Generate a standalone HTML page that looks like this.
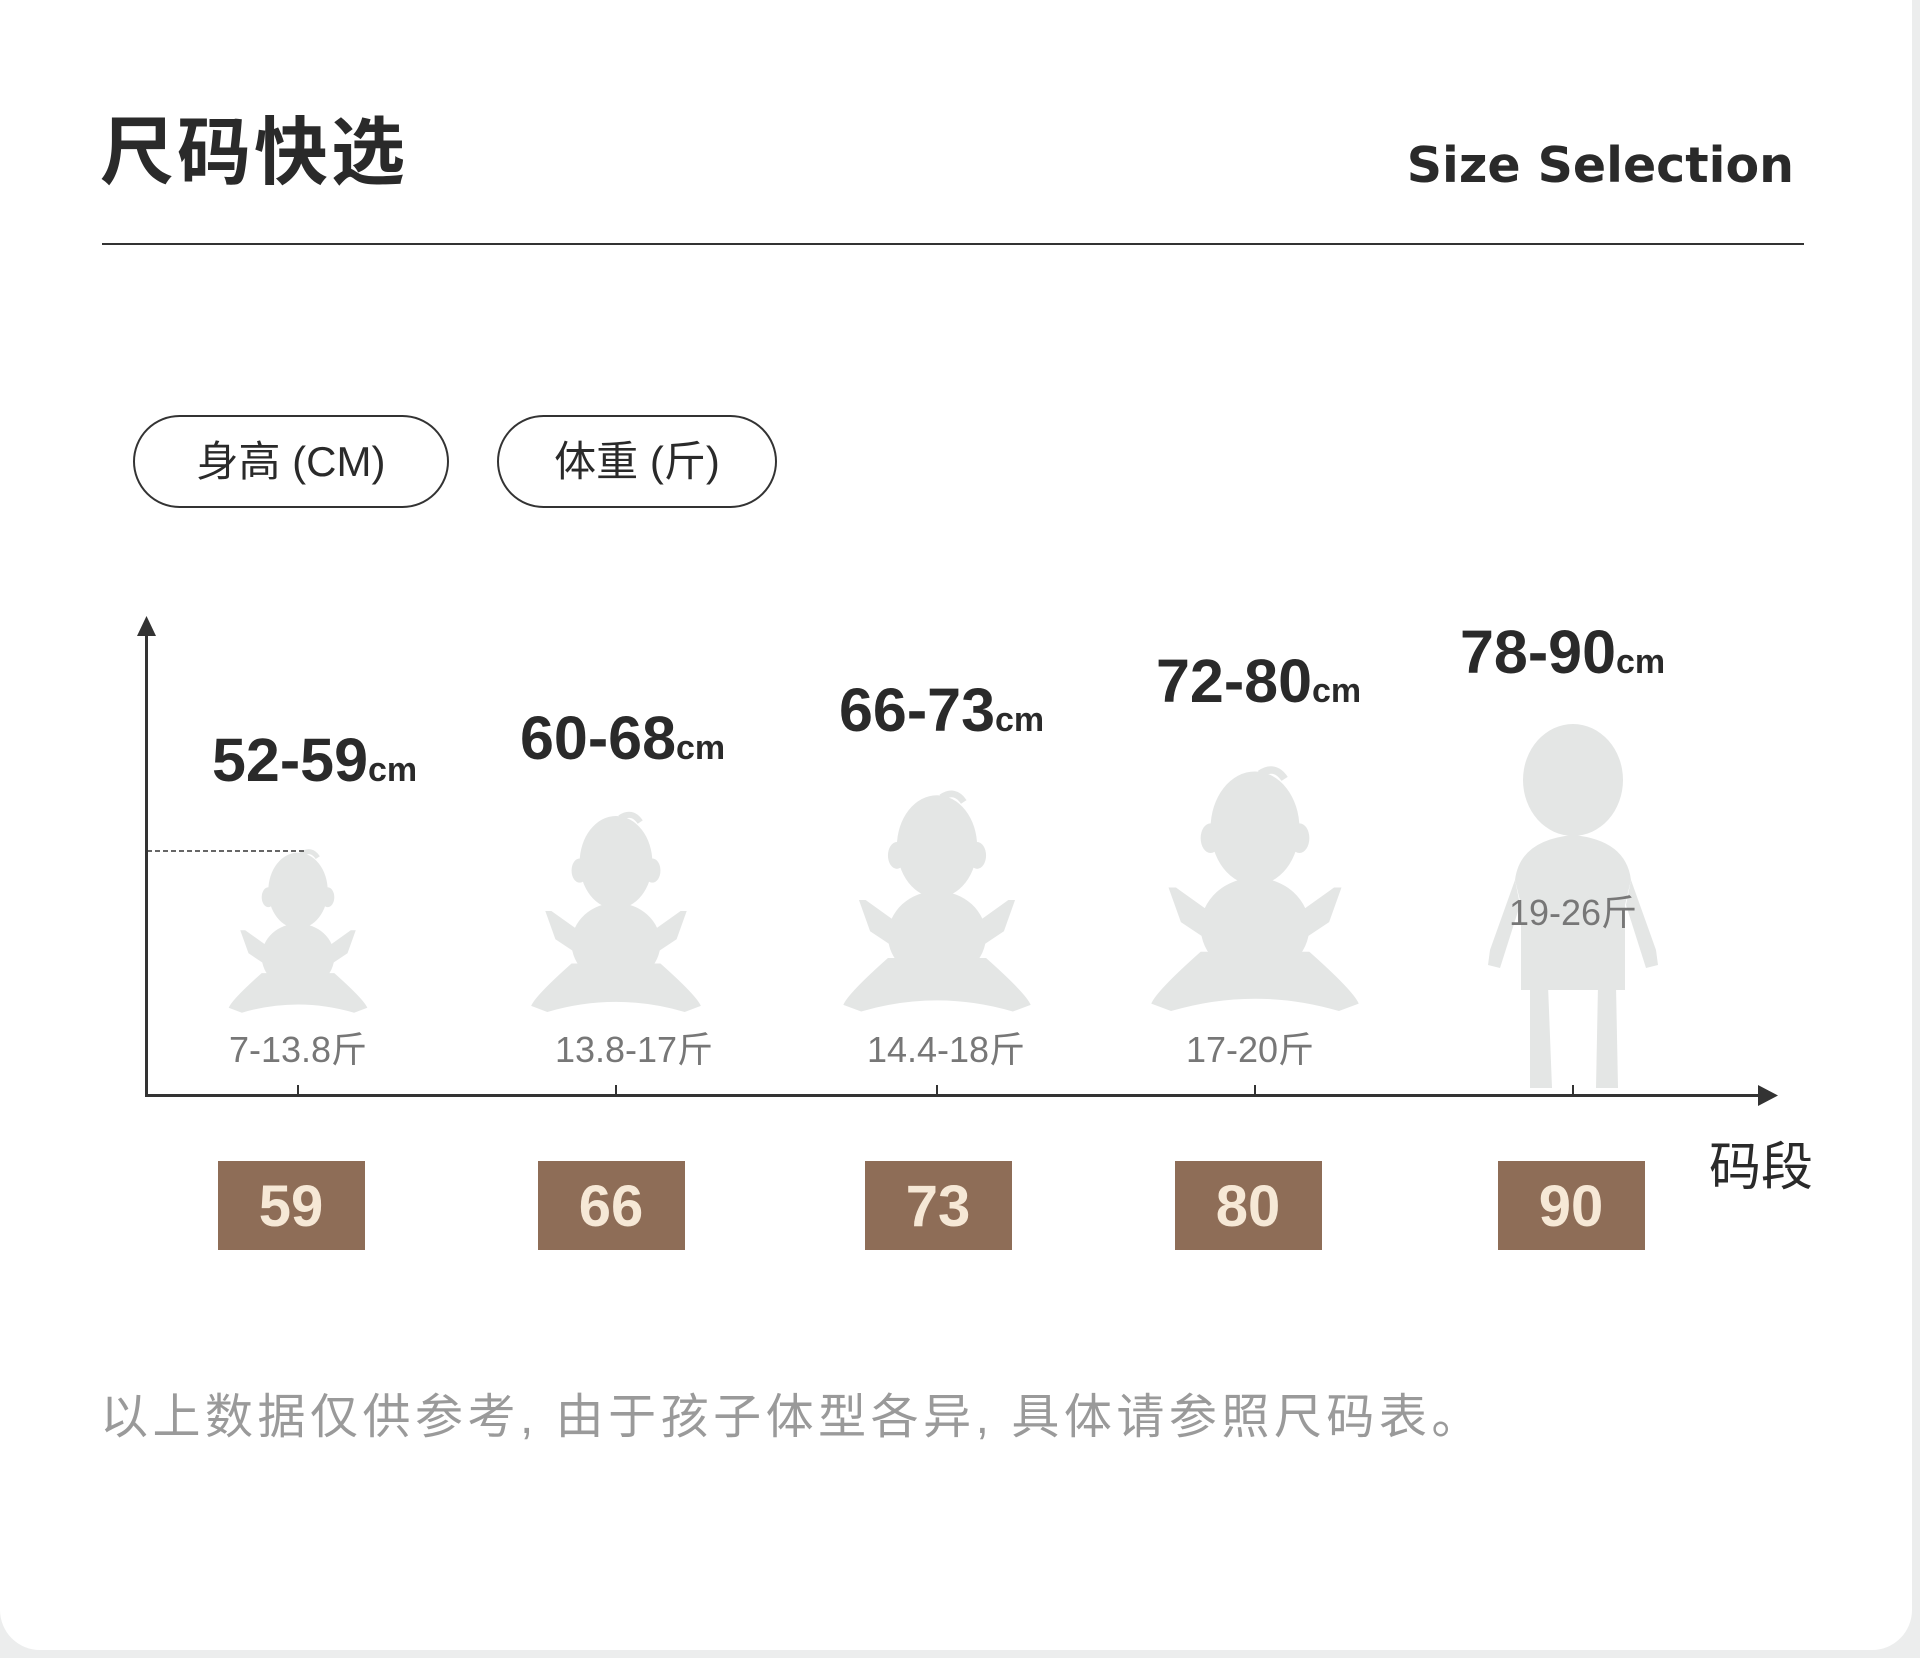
<!DOCTYPE html>
<html><head><meta charset="utf-8"><style>
html,body{margin:0;padding:0;background:#eceded;}
svg{display:block}
</style></head><body>
<svg width="1920" height="1658" viewBox="0 0 1920 1658" xmlns="http://www.w3.org/2000/svg" font-family="'Liberation Sans','Noto Sans CJK SC',sans-serif">
<rect x="0" y="-40" width="1912" height="1690" rx="40" fill="#fff"/>
<text x="100" y="178" font-size="74" font-weight="bold" fill="#2a2a2a" letter-spacing="3">尺码快选</text>
<text x="1794" y="182" font-size="49" font-weight="bold" fill="#2a2a2a" text-anchor="end" font-family="'DejaVu Sans',sans-serif">Size Selection</text>
<rect x="102" y="243" width="1702" height="2" fill="#333"/>
<rect x="134" y="416" width="314" height="91" rx="45.5" fill="none" stroke="#333" stroke-width="2"/>
<text x="291" y="476" font-size="42" fill="#2a2a2a" text-anchor="middle">身高 (CM)</text>
<rect x="498" y="416" width="278" height="91" rx="45.5" fill="none" stroke="#333" stroke-width="2"/>
<text x="637" y="476" font-size="42" fill="#2a2a2a" text-anchor="middle">体重 (斤)</text>
<defs>
<g id="baby" fill="#e4e6e5">
<ellipse cx="0" cy="24" rx="18" ry="23"/>
<ellipse cx="-18" cy="28" rx="4" ry="6"/><ellipse cx="18" cy="28" rx="4" ry="6"/>
<path d="M2 2 q6 -4 10 2" stroke="#e4e6e5" stroke-width="3" fill="none"/>
<ellipse cx="0" cy="64" rx="22" ry="20"/>
<path d="M-18 58 L-32 48 L-35 48 L-30 62 L-18 70Z"/>
<path d="M18 58 L32 48 L35 48 L30 62 L18 70Z"/>
<path d="M-22 74 Q-40 90 -42 95 L-34 98 Q0 88 34 98 L42 95 Q40 90 22 74Z"/>
</g>
</defs>
<use href="#baby" transform="translate(298,851) scale(1.65)"/>
<use href="#baby" transform="translate(616,814) scale(2.02)"/>
<use href="#baby" transform="translate(937,793) scale(2.23)"/>
<use href="#baby" transform="translate(1255,769) scale(2.47)"/>
<g fill="#e4e6e5">
<ellipse cx="1573" cy="780" rx="50" ry="56"/>
<path d="M1515 880 Q1520 840 1573 835 Q1626 840 1631 880 L1625 905 L1625 990 L1521 990 L1521 905Z"/>
<path d="M1515 880 L1490 950 L1488 965 L1500 968 L1520 905Z"/>
<path d="M1631 880 L1656 950 L1658 965 L1646 968 L1626 905Z"/>
<path d="M1530 985 L1548 985 L1552 1088 L1530 1088Z"/>
<path d="M1598 985 L1616 985 L1618 1088 L1596 1088Z"/>
</g>
<text x="1573" y="925" font-size="36" fill="#777" text-anchor="middle">19-26斤</text>
<line x1="147" y1="851" x2="304" y2="851" stroke="#333" stroke-width="1.5" stroke-dasharray="5,3"/>
<rect x="145" y="630" width="3" height="467" fill="#333"/>
<path d="M137 636 L146.5 616 L156 636Z" fill="#333"/>
<rect x="145" y="1094" width="1620" height="3" fill="#333"/>
<path d="M1758 1085 L1778 1095.5 L1758 1106Z" fill="#333"/>
<g fill="#333"><rect x="297" y="1085" width="2" height="10"/><rect x="615" y="1085" width="2" height="10"/><rect x="936" y="1085" width="2" height="10"/><rect x="1254" y="1085" width="2" height="10"/><rect x="1572" y="1085" width="2" height="10"/></g>
<g font-size="61" fill="#2a2a2a" font-weight="bold">
<text x="212" y="781">52-59<tspan font-size="34">cm</tspan></text>
<text x="520" y="759">60-68<tspan font-size="34">cm</tspan></text>
<text x="839" y="731">66-73<tspan font-size="34">cm</tspan></text>
<text x="1156" y="702">72-80<tspan font-size="34">cm</tspan></text>
<text x="1460" y="673">78-90<tspan font-size="34">cm</tspan></text>
</g>
<g font-size="36" fill="#777" text-anchor="middle">
<text x="298" y="1062">7-13.8斤</text>
<text x="634" y="1062">13.8-17斤</text>
<text x="946" y="1062">14.4-18斤</text>
<text x="1250" y="1062">17-20斤</text>
</g>
<g fill="#8e6d57">
<rect x="218" y="1161" width="147" height="89"/>
<rect x="538" y="1161" width="147" height="89"/>
<rect x="865" y="1161" width="147" height="89"/>
<rect x="1175" y="1161" width="147" height="89"/>
<rect x="1498" y="1161" width="147" height="89"/>
</g>
<g font-size="58" fill="#f6e8d6" text-anchor="middle" font-weight="bold">
<text x="291" y="1226">59</text>
<text x="611" y="1226">66</text>
<text x="938" y="1226">73</text>
<text x="1248" y="1226">80</text>
<text x="1571" y="1226">90</text>
</g>
<text x="1709" y="1185" font-size="52" fill="#2a2a2a">码段</text>
<text x="100" y="1433" font-size="48" fill="#9a9a9a" letter-spacing="4.5">以上数据仅供参考, 由于孩子体型各异, 具体请参照尺码表。</text>
</svg>
</body></html>
